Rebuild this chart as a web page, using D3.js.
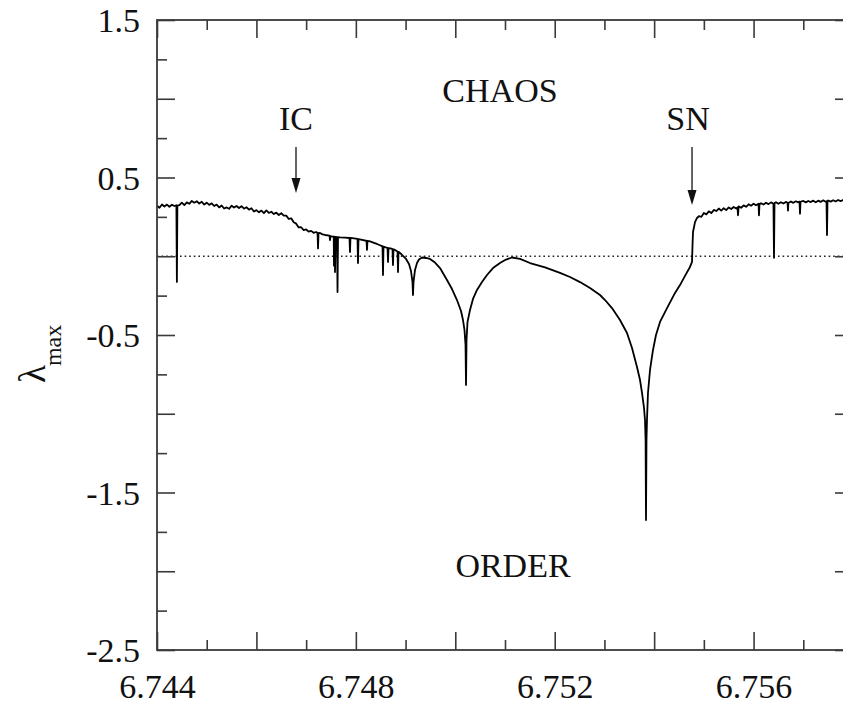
<!DOCTYPE html>
<html>
<head>
<meta charset="utf-8">
<script src="https://cdn.jsdelivr.net/npm/d3@7"></script>
<style>
  html, body { margin: 0; padding: 0; background: #fff; }
  svg { display: block; }
  text { font-family: "Liberation Serif", "Times New Roman", Times, serif; fill: #111; }
</style>
</head>
<body>
<svg id="chart" width="843" height="707"></svg>
<script>
// ---------------- DATA ----------------
// [control parameter, largest Lyapunov exponent]
const plateauLeft = [
  [6.74400, 0.321], [6.74405, 0.308], [6.74410, 0.329], [6.74415, 0.316],
  [6.74420, 0.328], [6.74425, 0.314], [6.74430, 0.327], [6.74435, 0.319],
  [6.74439, 0.324], [6.74440, -0.163], [6.74441, 0.322],
  [6.74445, 0.324], [6.74450, 0.340], [6.74455, 0.325], [6.74460, 0.342],
  [6.74465, 0.333], [6.74470, 0.351], [6.74475, 0.340], [6.74480, 0.349],
  [6.74485, 0.335], [6.74490, 0.346], [6.74495, 0.328], [6.74500, 0.340],
  [6.74505, 0.326], [6.74510, 0.336], [6.74515, 0.319], [6.74520, 0.328],
  [6.74525, 0.310], [6.74530, 0.322], [6.74535, 0.303], [6.74540, 0.310],
  [6.74545, 0.301], [6.74550, 0.321], [6.74555, 0.309], [6.74560, 0.319],
  [6.74565, 0.306], [6.74570, 0.318], [6.74575, 0.302], [6.74580, 0.311],
  [6.74585, 0.296], [6.74590, 0.305], [6.74595, 0.284], [6.74600, 0.293],
  [6.74605, 0.279], [6.74610, 0.290], [6.74615, 0.274], [6.74620, 0.291],
  [6.74625, 0.275], [6.74630, 0.283], [6.74635, 0.268], [6.74640, 0.277],
  [6.74645, 0.262], [6.74650, 0.273], [6.74655, 0.258], [6.74660, 0.258],
  [6.74665, 0.237], [6.74670, 0.241], [6.74675, 0.216], [6.74680, 0.207],
  [6.74685, 0.183], [6.74690, 0.184], [6.74695, 0.166], [6.74700, 0.170],
  [6.74705, 0.156], [6.74710, 0.161], [6.74715, 0.149], [6.74720, 0.154]
];

const cascade = [
  [6.747229, 0.148], [6.747239, 0.050], [6.747249, 0.146],
  [6.747279, 0.148], [6.747329, 0.139], [6.747379, 0.135],
  [6.747470, 0.131], [6.747480, 0.103], [6.747490, 0.128],
  [6.747530, 0.125],
  [6.747555, 0.124], [6.747560, -0.060], [6.747570, 0.124],
  [6.747581, -0.100], [6.747591, 0.123], [6.747621, 0.122],
  [6.747631, -0.227], [6.747641, 0.122],
  [6.747681, 0.120], [6.747782, 0.118],
  [6.747872, 0.116], [6.747882, 0.027], [6.747892, 0.116],
  [6.747963, 0.113],
  [6.748033, 0.110], [6.748043, -0.043], [6.748053, 0.109],
  [6.748124, 0.104], [6.748184, 0.100],
  [6.748214, 0.099], [6.748224, 0.040], [6.748234, 0.098],
  [6.748285, 0.094], [6.748365, 0.085], [6.748425, 0.078], [6.748486, 0.070],
  [6.748536, 0.063], [6.748546, -0.119], [6.748556, 0.061],
  [6.748597, 0.056],
  [6.748637, 0.053], [6.748647, -0.036], [6.748657, 0.052],
  [6.748697, 0.050],
  [6.748737, 0.045], [6.748747, -0.056], [6.748757, 0.044],
  [6.748787, 0.040],
  [6.748838, 0.030], [6.748848, -0.100], [6.748858, 0.028],
  [6.748888, 0.021], [6.748948, 0.002], [6.749009, -0.017], [6.749069, -0.049],
  [6.749109, -0.094], [6.749139, -0.163], [6.749149, -0.246], [6.749160, -0.163],
  [6.749190, -0.087], [6.749230, -0.043], [6.749270, -0.021], [6.749330, -0.008]
];

const cusps = [
  [6.749411, -0.011], [6.749491, -0.017], [6.749592, -0.040], [6.749693, -0.075],
  [6.749833, -0.151], [6.749934, -0.208], [6.750034, -0.278], [6.750115, -0.348],
  [6.750155, -0.405], [6.750185, -0.468], [6.750206, -0.563], [6.750216, -0.817],
  [6.750226, -0.532], [6.750246, -0.417], [6.750296, -0.341], [6.750356, -0.271],
  [6.750437, -0.214], [6.750537, -0.164], [6.750638, -0.119], [6.750759, -0.075],
  [6.750899, -0.043], [6.751020, -0.021], [6.751141, -0.008], [6.751302, -0.017],
  [6.751503, -0.043], [6.751805, -0.071], [6.752106, -0.106], [6.752308, -0.132],
  [6.752509, -0.164], [6.752710, -0.202], [6.752911, -0.246], [6.753012, -0.278],
  [6.753152, -0.329], [6.753313, -0.405], [6.753454, -0.487], [6.753555, -0.583],
  [6.753655, -0.703], [6.753716, -0.786], [6.753756, -0.868], [6.753796, -0.963],
  [6.753816, -1.040], [6.753828, -1.167], [6.753836, -1.675], [6.753846, -1.167],
  [6.753856, -1.040], [6.753876, -0.868], [6.753917, -0.722], [6.753977, -0.595],
  [6.754037, -0.500], [6.754118, -0.417], [6.754259, -0.329], [6.754420, -0.233],
  [6.754520, -0.183], [6.754621, -0.125], [6.754721, -0.068], [6.754762, -0.036],
  [6.754772, 0.071], [6.754782, 0.154], [6.754822, 0.217], [6.754862, 0.243]
];

const plateauRight = [
  [6.75490, 0.254], [6.75495, 0.250], [6.75500, 0.275], [6.75505, 0.266],
  [6.75510, 0.285], [6.75515, 0.274], [6.75520, 0.294], [6.75525, 0.287],
  [6.75530, 0.303], [6.75535, 0.290], [6.75540, 0.305], [6.75545, 0.293],
  [6.75550, 0.310], [6.75555, 0.300], [6.75560, 0.313], [6.75565, 0.303],
  [6.755677, 0.310], [6.755687, 0.260], [6.75570, 0.317],
  [6.75575, 0.308], [6.75580, 0.323], [6.75585, 0.314], [6.75590, 0.330],
  [6.75595, 0.321], [6.75600, 0.334], [6.75605, 0.324],
  [6.75610, 0.333], [6.756109, 0.260], [6.756119, 0.331],
  [6.75615, 0.337], [6.75620, 0.328], [6.75625, 0.340], [6.75630, 0.331],
  [6.75635, 0.342], [6.75640, 0.333],
  [6.756411, -0.010], [6.756421, 0.336],
  [6.75645, 0.343], [6.75650, 0.333], [6.75655, 0.343], [6.75660, 0.335],
  [6.75665, 0.345], [6.756683, 0.340], [6.756693, 0.290], [6.75670, 0.338],
  [6.75675, 0.348], [6.75680, 0.339], [6.75685, 0.349], [6.75690, 0.342],
  [6.756924, 0.347], [6.756934, 0.270], [6.756944, 0.346],
  [6.75700, 0.351], [6.75705, 0.342], [6.75710, 0.351], [6.75715, 0.344],
  [6.75720, 0.353], [6.75725, 0.343], [6.75730, 0.353], [6.75735, 0.345],
  [6.75740, 0.355], [6.75745, 0.346],
  [6.757467, 0.349], [6.757477, 0.135], [6.757487, 0.350],
  [6.75750, 0.354], [6.75755, 0.347], [6.75760, 0.356], [6.75765, 0.348],
  [6.75770, 0.357], [6.75775, 0.350], [6.75780, 0.357], [6.75785, 0.350],
  [6.75790, 0.358], [6.75795, 0.352], [6.75800, 0.355]
];

const xDomain = [6.744, 6.758];
const yDomain = [-2.5, 1.5];
const xMajorTicks = [6.744, 6.746, 6.748, 6.750, 6.752, 6.754, 6.756, 6.758];
const xMinorTicks = [6.745, 6.747, 6.749, 6.751, 6.753, 6.755, 6.757];
const xTickLabels = { "6.744": "6.744", "6.748": "6.748", "6.752": "6.752", "6.756": "6.756" };
const yMajorTicks = [-2.5, -2.0, -1.5, -1.0, -0.5, 0.0, 0.5, 1.0, 1.5];
const yMinorTicks = [-2.25, -1.75, -1.25, -0.75, -0.25, 0.25, 0.75, 1.25];
const yTickLabels = { "-2.5": "-2.5", "-1.5": "-1.5", "-0.5": "-0.5", "0.5": "0.5", "1.5": "1.5" };

// annotations: [x, y, text]
const regionLabels = [[6.750899, 0.979, "CHAOS"], [6.751161, -2.037, "ORDER"]];
const eventLabels = [[6.746796, 0.802, "IC"], [6.754681, 0.802, "SN"]];
const eventArrows = [[6.746796, 0.694, 0.402], [6.754762, 0.694, 0.325]];

// ---------------- LAYOUT ----------------
const margin = { left: 157, top: 20 };
const plotW = 696, plotH = 630;
const svg = d3.select("#chart");
const x = d3.scaleLinear().domain(xDomain).range([margin.left, margin.left + plotW]);
const y = d3.scaleLinear().domain(yDomain).range([margin.top + plotH, margin.top]);

const axisColor = "#3a3a3a";
const fontSize = 34;

svg.append("defs").append("clipPath").attr("id", "plotclip")
  .append("rect").attr("x", x(xDomain[0])).attr("y", y(yDomain[1]))
  .attr("width", plotW).attr("height", plotH);

// zero line (dotted)
svg.append("line")
  .attr("x1", x(xDomain[0])).attr("x2", x(xDomain[1]))
  .attr("y1", y(0)).attr("y2", y(0))
  .attr("stroke", "#222").attr("stroke-width", 1.3)
  .attr("stroke-dasharray", "1.6,3");

// curve
const allPoints = [].concat(plateauLeft, cascade, cusps, plateauRight);
const line = d3.line().x(d => x(d[0])).y(d => y(d[1]));
svg.append("path")
  .attr("clip-path", "url(#plotclip)")
  .attr("d", line(allPoints))
  .attr("fill", "none").attr("stroke", "#000")
  .attr("stroke-width", 1.8).attr("stroke-linejoin", "round");

// axes
function styleAxis(g) {
  g.select(".domain").remove();
  g.selectAll(".tick line").attr("stroke", axisColor).attr("stroke-width", 1.6);
  g.selectAll(".tick text").attr("font-size", fontSize)
    .attr("font-family", '"Liberation Serif", "Times New Roman", serif').attr("fill", "#111");
}
const noLabel = () => "";

// bottom
svg.append("g").attr("transform", `translate(0,${y(yDomain[0])})`)
  .call(d3.axisBottom(x).tickValues(xMajorTicks).tickSize(-18)
    .tickFormat(d => xTickLabels[d3.format(".3f")(d)] || ""))
  .call(styleAxis)
  .call(g => g.selectAll(".tick text").attr("y", 48).attr("dy", 0));
svg.append("g").attr("transform", `translate(0,${y(yDomain[0])})`)
  .call(d3.axisBottom(x).tickValues(xMinorTicks).tickSize(-10).tickFormat(noLabel))
  .call(styleAxis);
// top
svg.append("g").attr("transform", `translate(0,${y(yDomain[1])})`)
  .call(d3.axisTop(x).tickValues(xMajorTicks).tickSize(-18).tickFormat(noLabel))
  .call(styleAxis);
svg.append("g").attr("transform", `translate(0,${y(yDomain[1])})`)
  .call(d3.axisTop(x).tickValues(xMinorTicks).tickSize(-10).tickFormat(noLabel))
  .call(styleAxis);
// left
svg.append("g").attr("transform", `translate(${x(xDomain[0])},0)`)
  .call(d3.axisLeft(y).tickValues(yMajorTicks).tickSize(-18)
    .tickFormat(d => yTickLabels[String(d)] || ""))
  .call(styleAxis)
  .call(g => g.selectAll(".tick text").attr("x", -17).attr("dy", "0.34em"));
svg.append("g").attr("transform", `translate(${x(xDomain[0])},0)`)
  .call(d3.axisLeft(y).tickValues(yMinorTicks).tickSize(-10).tickFormat(noLabel))
  .call(styleAxis);
// right
svg.append("g").attr("transform", `translate(${x(xDomain[1])},0)`)
  .call(d3.axisRight(y).tickValues(yMajorTicks).tickSize(-18).tickFormat(noLabel))
  .call(styleAxis);
svg.append("g").attr("transform", `translate(${x(xDomain[1])},0)`)
  .call(d3.axisRight(y).tickValues(yMinorTicks).tickSize(-10).tickFormat(noLabel))
  .call(styleAxis);

// frame
svg.append("rect")
  .attr("x", x(xDomain[0])).attr("y", y(yDomain[1]))
  .attr("width", plotW).attr("height", plotH)
  .attr("fill", "none").attr("stroke", axisColor).attr("stroke-width", 1.8);

// y-axis title  λ_max
const yt = svg.append("text")
  .attr("transform", "translate(45,383) rotate(-90)")
  .attr("font-size", 37);
yt.append("tspan").text("λ");
yt.append("tspan").attr("font-size", 24).attr("dy", 16).attr("dx", -1).text("max");

// region labels
svg.selectAll("text.region").data(regionLabels).enter().append("text")
  .attr("class", "region")
  .attr("x", d => x(d[0])).attr("y", d => y(d[1]))
  .attr("text-anchor", "middle").attr("font-size", fontSize)
  .text(d => d[2]);

svg.selectAll("text.event").data(eventLabels).enter().append("text")
  .attr("class", "event")
  .attr("x", d => x(d[0])).attr("y", d => y(d[1]))
  .attr("text-anchor", "middle").attr("font-size", fontSize)
  .text(d => d[2]);

// arrows
const arr = svg.selectAll("g.arrow").data(eventArrows).enter().append("g").attr("class", "arrow");
arr.append("line")
  .attr("x1", d => x(d[0])).attr("x2", d => x(d[0]))
  .attr("y1", d => y(d[1])).attr("y2", d => y(d[2]) - 10)
  .attr("stroke", "#111").attr("stroke-width", 1.3);
arr.append("path")
  .attr("d", d => {
    const cx = x(d[0]), ty = y(d[2]);
    return `M${cx - 4.5},${ty - 15} L${cx + 4.5},${ty - 15} L${cx},${ty} Z`;
  })
  .attr("fill", "#111");
</script>
</body>
</html>
